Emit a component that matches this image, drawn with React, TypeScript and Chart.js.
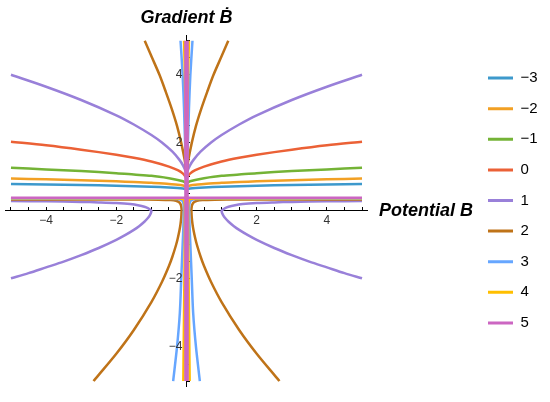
import React, { useEffect, useRef } from 'react';
import { Chart, registerables } from 'chart.js';

Chart.register(...registerables);

const FONT = '"Liberation Sans", Arial, sans-serif';
const X_TITLE = 'Potential B';
const Y_TITLE = 'Gradient Ḃ';

const LEVELS = ['−3', '−2', '−1', '0', '1', '2', '3', '4', '5'];
const COLORS = ['#3d99cc', '#f2a024', '#74b336', '#eb6136', '#9980d9', '#bf7318', '#66a6ff', '#ffbf00', '#cc66c2'];

const AXIS_TICKS = [-5, -4.5, -4, -3.5, -3, -2.5, -2, -1.5, -1, -0.5, 0.5, 1, 1.5, 2, 2.5, 3, 3.5, 4, 4.5, 5];
const LABELLED_TICKS = [-4, -2, 2, 4];

// level -3
const M3_UP_L = [[-5, 0.79], [-4, 0.777], [-3, 0.76], [-2, 0.74], [-1.5, 0.726], [-1, 0.71], [-0.5, 0.688], [-0.25, 0.672], [-0.1, 0.656], [-0.03, 0.642], [-0.01, 0.634], [0, 0.62]];
const M3_UP_R = [[0, 0.62], [0.01, 0.634], [0.03, 0.642], [0.1, 0.656], [0.25, 0.672], [0.5, 0.688], [1, 0.71], [1.5, 0.726], [2, 0.74], [3, 0.76], [4, 0.777], [5, 0.79]];
// level -2
const M2_UP_L = [[-5, 0.95], [-4, 0.93], [-3, 0.9], [-2, 0.87], [-1.5, 0.85], [-1, 0.83], [-0.5, 0.79], [-0.25, 0.77], [-0.1, 0.745], [-0.03, 0.72], [-0.01, 0.71], [0, 0.69]];
const M2_UP_R = [[0, 0.69], [0.01, 0.71], [0.03, 0.72], [0.1, 0.745], [0.25, 0.77], [0.5, 0.79], [1, 0.83], [1.5, 0.85], [2, 0.87], [3, 0.9], [4, 0.93], [5, 0.95]];
// level -1
const M1_UP_L = [[-5, 1.27], [-4, 1.22], [-3, 1.17], [-2, 1.11], [-1.5, 1.07], [-1, 1.03], [-0.5, 0.96], [-0.25, 0.91], [-0.1, 0.87], [-0.03, 0.83], [-0.01, 0.8], [0, 0.76]];
const M1_UP_R = [[0, 0.76], [0.01, 0.8], [0.03, 0.83], [0.1, 0.87], [0.25, 0.91], [0.5, 0.96], [1, 1.03], [1.5, 1.07], [2, 1.11], [3, 1.17], [4, 1.22], [5, 1.27]];
// level 0
const Z_UP_L = [[-5, 2.03], [-4, 1.93], [-3, 1.8], [-2, 1.65], [-1.5, 1.56], [-1, 1.45], [-0.5, 1.3], [-0.25, 1.195], [-0.1, 1.095], [-0.03, 1.01], [-0.01, 0.97], [0, 0.9]];
const Z_UP_R = [[0, 0.9], [0.01, 0.97], [0.03, 1.01], [0.1, 1.095], [0.25, 1.195], [0.5, 1.3], [1, 1.45], [1.5, 1.56], [2, 1.65], [3, 1.8], [4, 1.93], [5, 2.03]];
// level 1
const P1_UP_L = [[-5, 4.0], [-4, 3.65], [-3, 3.26], [-2, 2.81], [-1.5, 2.54], [-1, 2.23], [-0.7, 2.01], [-0.4, 1.74], [-0.2, 1.5], [-0.1, 1.34], [-0.03, 1.175], [0, 1.0]];
const P1_UP_R = [[0, 1.0], [0.03, 1.175], [0.1, 1.34], [0.2, 1.5], [0.4, 1.74], [0.7, 2.01], [1, 2.23], [1.5, 2.54], [2, 2.81], [3, 3.26], [4, 3.65], [5, 4.0]];
const P1_LO_L = [[-5, 0.29], [-4, 0.28], [-3, 0.265], [-2.5, 0.25], [-2, 0.23], [-1.6, 0.2], [-1.35, 0.16], [-1.2, 0.12], [-1.1, 0.08], [-1.04, 0.04], [-1.0, 0], [-1.02, -0.078], [-1.05, -0.137], [-1.1, -0.209], [-1.2, -0.318], [-1.35, -0.448], [-1.5, -0.557], [-1.75, -0.713], [-2, -0.85], [-2.5, -1.09], [-3, -1.3], [-3.5, -1.49], [-4, -1.66], [-4.5, -1.83], [-5, -1.98]];
const P1_LO_R = [[5, 0.29], [4, 0.28], [3, 0.265], [2.5, 0.25], [2, 0.23], [1.6, 0.2], [1.35, 0.16], [1.2, 0.12], [1.1, 0.08], [1.04, 0.04], [1.0, 0], [1.02, -0.078], [1.05, -0.137], [1.1, -0.209], [1.2, -0.318], [1.35, -0.448], [1.5, -0.557], [1.75, -0.713], [2, -0.85], [2.5, -1.09], [3, -1.3], [3.5, -1.49], [4, -1.66], [4.5, -1.83], [5, -1.98]];
// level 2
const B2_UP_L = [[-1.19, 5.0], [-0.98, 4.5], [-0.77, 4.0], [-0.59, 3.5], [-0.42, 3.0], [-0.27, 2.5], [-0.15, 2.0], [-0.053, 1.5], [-0.013, 1.2], [0, 1.0]];
const B2_UP_R = [[0, 1.0], [0.013, 1.2], [0.053, 1.5], [0.15, 2.0], [0.27, 2.5], [0.42, 3.0], [0.59, 3.5], [0.77, 4.0], [0.98, 4.5], [1.19, 5.0]];
const B2_LO_L = [[-5, 0.335], [-3, 0.335], [-1.5, 0.333], [-0.8, 0.33], [-0.45, 0.32], [-0.3, 0.3], [-0.22, 0.26], [-0.17, 0.2], [-0.15, 0.13], [-0.14, 0.05], [-0.14, 0], [-0.15, -0.2], [-0.17, -0.38], [-0.2, -0.57], [-0.25, -0.81], [-0.3, -1.01], [-0.4, -1.34], [-0.5, -1.62], [-0.7, -2.09], [-1.0, -2.68], [-1.5, -3.5], [-2.0, -4.2], [-2.5, -4.82], [-2.65, -5]];
const B2_LO_R = [[5, 0.335], [3, 0.335], [1.5, 0.333], [0.8, 0.33], [0.45, 0.32], [0.3, 0.3], [0.22, 0.26], [0.17, 0.2], [0.15, 0.13], [0.14, 0.05], [0.14, 0], [0.15, -0.2], [0.17, -0.38], [0.2, -0.57], [0.25, -0.81], [0.3, -1.01], [0.4, -1.34], [0.5, -1.62], [0.7, -2.09], [1.0, -2.68], [1.5, -3.5], [2.0, -4.2], [2.5, -4.82], [2.65, -5]];
// level 3
const L3_UP_L = [[-0.17, 5], [-0.11, 4], [-0.07, 3], [-0.04, 2], [-0.015, 1.5], [0, 1.3]];
const L3_UP_R = [[0, 1.3], [0.015, 1.5], [0.04, 2], [0.07, 3], [0.11, 4], [0.17, 5]];
const L3_LO_L = [[-5, 0.36], [-2, 0.36], [-0.6, 0.36], [-0.25, 0.35], [-0.12, 0.3], [-0.08, 0.18], [-0.075, 0], [-0.09, -0.5], [-0.11, -1], [-0.13, -1.5], [-0.15, -2], [-0.19, -3], [-0.27, -4], [-0.38, -5]];
const L3_LO_R = [[5, 0.36], [2, 0.36], [0.6, 0.36], [0.25, 0.35], [0.12, 0.3], [0.08, 0.18], [0.075, 0], [0.09, -0.5], [0.11, -1], [0.13, -1.5], [0.15, -2], [0.19, -3], [0.27, -4], [0.38, -5]];
// level 4
const Y4_UP_L = [[-0.07, 5], [-0.045, 4], [-0.03, 3], [-0.015, 2], [0, 1.5]];
const Y4_UP_R = [[0, 1.5], [0.015, 2], [0.03, 3], [0.045, 4], [0.07, 5]];
const Y4_LO_L = [[-5, 0.37], [-1, 0.37], [-0.2, 0.365], [-0.08, 0.33], [-0.05, 0.2], [-0.045, 0], [-0.05, -1], [-0.06, -2], [-0.07, -3], [-0.08, -4], [-0.09, -5]];
const Y4_LO_R = [[5, 0.37], [1, 0.37], [0.2, 0.365], [0.08, 0.33], [0.05, 0.2], [0.045, 0], [0.05, -1], [0.06, -2], [0.07, -3], [0.08, -4], [0.09, -5]];
// level 5
const K5_H = [[-5, 0.39], [5, 0.39]];
const K5_V_L = [[-0.03, 5], [-0.03, -5]];
const K5_V_R = [[0.03, 5], [0.03, -5]];

const BRANCHES = [
  [M3_UP_L, M3_UP_R],
  [M2_UP_L, M2_UP_R],
  [M1_UP_L, M1_UP_R],
  [Z_UP_L, Z_UP_R],
  [P1_UP_L, P1_UP_R, P1_LO_L, P1_LO_R],
  [B2_UP_L, B2_UP_R, B2_LO_L, B2_LO_R],
  [L3_UP_L, L3_UP_R, L3_LO_L, L3_LO_R],
  [Y4_UP_L, Y4_UP_R, Y4_LO_L, Y4_LO_R],
  [K5_H, K5_V_L, K5_V_R],
];

const toPoints = (branches: number[][][]) =>
  branches.flatMap((b, i) => [
    ...(i ? [{ x: null as any, y: null as any }] : []),
    ...b.map(([x, y]) => ({ x, y })),
  ]);

const fmt = (v: number) => (v < 0 ? '−' + Math.abs(v) : String(v));

const axisTextPlugin = {
  id: 'axisText',
  afterDraw(chart: any) {
    const { ctx, scales } = chart;
    const sx = scales.x;
    const sy = scales.y;
    const x0 = sx.getPixelForValue(0);
    const y0 = sy.getPixelForValue(0);
    ctx.save();
    ctx.fillStyle = '#333';
    ctx.font = `12px ${FONT}`;
    ctx.textAlign = 'center';
    ctx.textBaseline = 'top';
    LABELLED_TICKS.forEach((v) => ctx.fillText(fmt(v), sx.getPixelForValue(v), y0 + 4));
    ctx.textAlign = 'right';
    ctx.textBaseline = 'middle';
    LABELLED_TICKS.forEach((v) => ctx.fillText(fmt(v), x0 - 4, sy.getPixelForValue(v)));
    ctx.fillStyle = '#000';
    ctx.font = `italic bold 18px ${FONT}`;
    ctx.textAlign = 'center';
    ctx.textBaseline = 'alphabetic';
    ctx.fillText(Y_TITLE, x0, 23);
    ctx.textAlign = 'left';
    ctx.textBaseline = 'middle';
    ctx.fillText(X_TITLE, sx.right + 11, y0);
    ctx.restore();
  },
};

export default function App() {
  const ref = useRef<HTMLCanvasElement | null>(null);
  useEffect(() => {
    if (!ref.current) return;
    const datasets = BRANCHES.map((br, i) => ({
      label: LEVELS[i],
      data: toPoints(br),
      borderColor: COLORS[i],
      backgroundColor: COLORS[i],
      borderWidth: 2.5,
      pointRadius: 0,
      showLine: true,
      fill: false,
      tension: 0.3,
      spanGaps: false,
      order: 9 - i,
    }));
    const axisCommon = () => ({
      type: 'linear' as const,
      min: -5.17,
      max: 5.17,
      z: 1,
      afterBuildTicks: (s: any) => {
        s.ticks = AXIS_TICKS.map((v) => ({ value: v }));
      },
      ticks: { autoSkip: false, maxRotation: 0, padding: 8, callback: () => '' },
      grid: { display: true, drawOnChartArea: false, drawTicks: true, tickLength: -4, color: '#000', lineWidth: 1 },
      border: { display: true, color: '#000', width: 1 },
    });
    const chart = new Chart(ref.current, {
      type: 'scatter',
      data: { datasets: datasets as any },
      plugins: [axisTextPlugin],
      options: {
        animation: false,
        responsive: true,
        maintainAspectRatio: false,
        events: [],
        layout: { padding: { top: 4, bottom: 5, left: 5, right: 2.4 } },
        scales: {
          x: { ...axisCommon(), position: { y: 0 } } as any,
          y: { ...axisCommon(), position: { x: 0 } } as any,
          x2: {
            type: 'linear',
            position: 'top',
            display: true,
            grid: { display: false },
            ticks: { display: false },
            border: { display: false },
            afterFit: (s: any) => { s.height = 31; },
          } as any,
          y2: {
            type: 'linear',
            position: 'right',
            display: true,
            grid: { display: false },
            ticks: { display: false },
            border: { display: false },
            afterFit: (s: any) => { s.width = 104.4; },
          } as any,
        },
        plugins: {
          tooltip: { enabled: false },
          title: { display: false },
          legend: {
            position: 'right',
            align: 'center',
            labels: {
              boxWidth: 25,
              boxHeight: 3,
              padding: 15.6,
              color: '#000',
              font: { size: 15, family: FONT },
              sort: (a: any, b: any) => a.datasetIndex - b.datasetIndex,
              generateLabels: (c: any) =>
                c.data.datasets.map((d: any, i: number) => ({
                  text: d.label,
                  fillStyle: d.borderColor,
                  strokeStyle: d.borderColor,
                  lineWidth: 0,
                  hidden: false,
                  datasetIndex: i,
                })),
            },
          },
        },
      },
    });
    return () => chart.destroy();
  }, []);
  return (
    <div style={{ position: 'absolute', left: 0, top: 0, width: 550, height: 402 }}>
      <canvas ref={ref} />
    </div>
  );
}
